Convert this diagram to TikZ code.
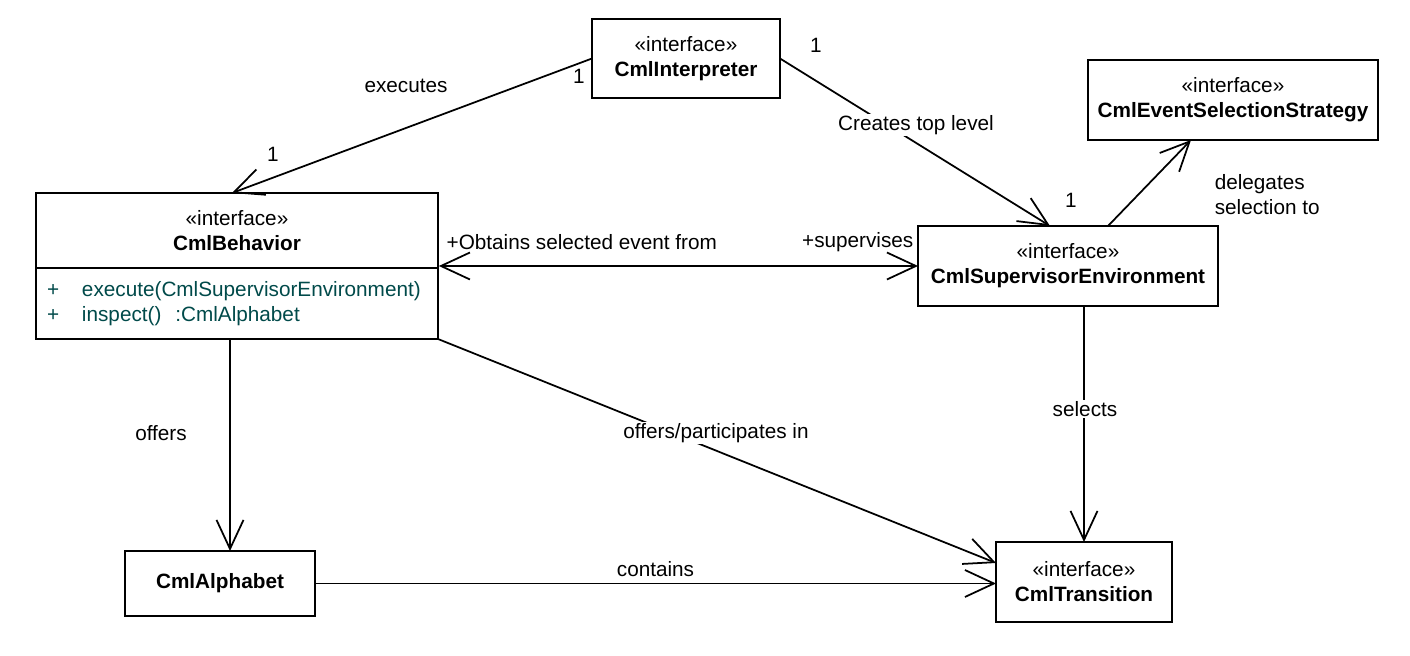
\documentclass[tikz,border=0pt]{standalone}
\usepackage{fontspec}
\setmainfont{Liberation Sans}
\usepackage{tikz}
\usetikzlibrary{shapes,arrows.meta,positioning,fit}
\usepackage{xcolor}
\definecolor{opcolor}{HTML}{004A4A}

\begin{document}
\begin{tikzpicture}[font=\fontsize{11.8}{14.2}\selectfont, line width=1pt, >={Straight Barb[length=0.58cm,width=0.54cm]}]
      \tikzstyle{iface} = [rectangle, draw, fill=white, align=center, inner sep=2pt, outer sep=0pt]
      \tikzstyle{assoc} = [->]
      \tikzstyle{lbl} = [fill=white, inner sep=1pt]

      \useasboundingbox (0,0) rectangle (28.2,13.1);

      % classes
      \node[iface, minimum width=3.76cm, minimum height=1.58cm] (interp) at (13.72,11.93) {\guillemotleft interface\guillemotright\\\textbf{CmlInterpreter}};
      \node[iface, minimum width=5.8cm, minimum height=1.6cm] (strat) at (24.66,11.1) {\guillemotleft interface\guillemotright\\\textbf{CmlEventSelectionStrategy}};
      \node[iface, minimum width=6cm, minimum height=1.6cm] (superv) at (21.36,7.78) {\guillemotleft interface\guillemotright\\\textbf{CmlSupervisorEnvironment}};
      \node[iface, minimum width=3.52cm, minimum height=1.6cm] (trans) at (21.68,1.46) {\guillemotleft interface\guillemotright\\\textbf{CmlTransition}};
      \node[iface, minimum width=3.8cm, minimum height=1.3cm] (alpha) at (4.4,1.43) {\textbf{CmlAlphabet}};

      \node[iface, minimum width=8.04cm, minimum height=1.5cm] (behav) at (4.74,8.49) {\guillemotleft interface\guillemotright\\\textbf{CmlBehavior}};
      \node[iface, minimum height=1.42cm, anchor=north, align=left, text=opcolor, inner xsep=0.22cm, text width=7.6cm] (behavops) at (behav.south) {%
        \makebox[0.7cm][l]{+}execute(CmlSupervisorEnvironment)\\
        \makebox[0.7cm][l]{+}inspect()\ \ :CmlAlphabet};
      \node[fit=(behav)(behavops), inner sep=0pt] (behavior) {};

      % associations
      \draw[assoc] (interp.west) -- ([xshift=-0.1cm]behav.north);
      \draw[assoc] (interp.east) -- ([xshift=-0.36cm]superv.north);
      \draw[assoc] ([xshift=0.8cm]superv.north) -- ([xshift=-0.84cm]strat.south);
      \draw[<->] (behavior.east) -- (superv.west);
      \draw[assoc] ([xshift=-0.14cm]behavops.south) -- ([xshift=0.2cm]alpha.north);
      \draw[assoc] (behavops.south east) -- ([yshift=0.38cm]trans.west);
      \draw[assoc] (superv.south -| trans.north) -- (trans.north);
      \draw[assoc] (alpha.east) -- (alpha.east -| trans.west) node[midway, above] {contains};

      % labels
      \node[lbl] (lexec) at (8.12,11.38) {executes};
      \node (m1) at (11.58,11.58) {1};
      \node (m2) at (5.46,10.02) {1};
      \node (m3) at (16.32,12.2) {1};
      \node (m4) at (21.42,9.1) {1};
      \node[lbl] (lcreate) at (18.32,10.6) {Creates top level};
      \node[align=left, anchor=west] (ldeleg) at (24.16,9.21) {delegates\\selection to};
      \node[anchor=west, inner sep=1pt] (lobt) at (8.88,8.26) {+Obtains selected event from};
      \node[anchor=east, inner sep=1pt] (lsup) at (18.32,8.26) {+supervises};
      \node (loffers) at (3.22,4.44) {offers};
      \node[lbl] (lpart) at (14.32,4.44) {offers/participates in};
      \node[lbl] (lsel) at (21.7,4.92) {selects};
    \end{tikzpicture}
\end{document}
